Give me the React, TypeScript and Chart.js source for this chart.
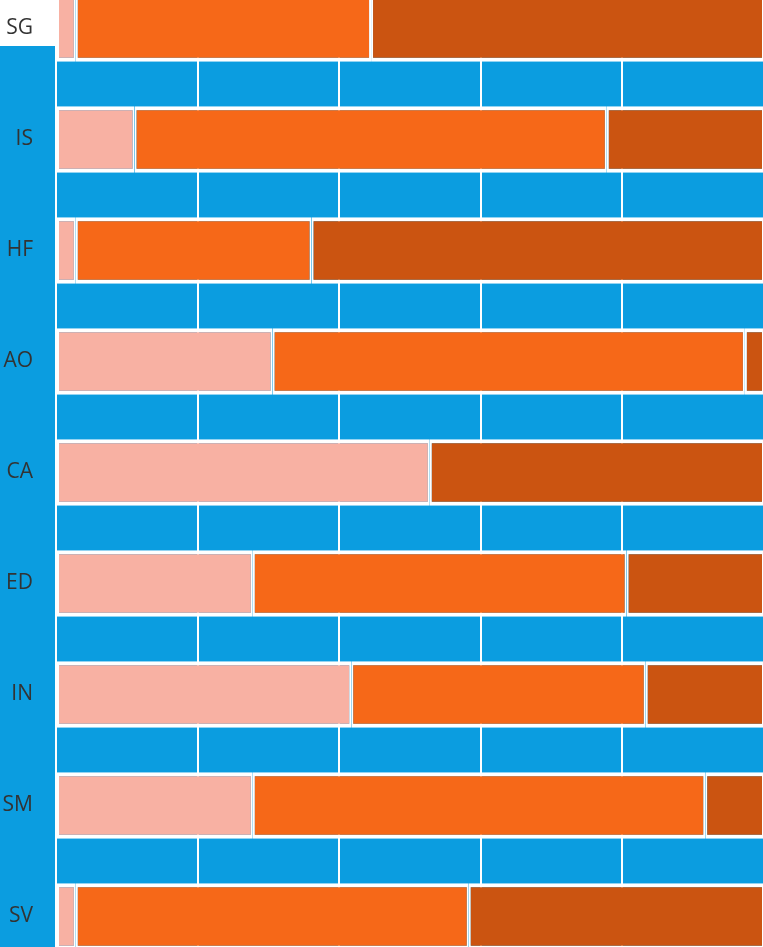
import React, { useEffect, useRef } from "react";
import { Chart, registerables } from "chart.js";

Chart.register(...registerables);

const categories = ["SG", "IS", "HF", "AO", "CA", "ED", "IN", "SM", "SV"];
const lowShare = [2.8, 11.1, 2.8, 30.6, 52.8, 27.8, 41.7, 27.8, 2.8];
const midShare = [41.7, 66.7, 33.3, 66.7, null, 52.8, 41.6, 63.9, 55.5];
const highShare = [55.5, 22.2, 63.9, 2.7, 47.2, 19.4, 16.7, 8.3, 41.7];
const xTicks = [0, 20, 40, 60, 80, 100];

const BLUE = "#0b9de0";
const PINK = "#f8b1a3";
const ORANGE = "#f66818";
const DARK = "#cb5411";

const CANVAS_W = 764;
const CANVAS_H = 999;
const CANVAS_TOP = -27;
const LEFT_BLUE_TOP = 73;
const AXIS_W = 56;

const bgPlugin = {
  id: "bgPlugin",
  beforeDraw(chart: any) {
    const { ctx, chartArea, width, height } = chart;
    ctx.save();
    ctx.fillStyle = "#ffffff";
    ctx.fillRect(0, 0, width, height);
    ctx.fillStyle = BLUE;
    ctx.fillRect(
      chartArea.left,
      chartArea.top,
      chartArea.right - chartArea.left,
      chartArea.bottom - chartArea.top
    );
    ctx.fillRect(0, LEFT_BLUE_TOP, chartArea.left, height - LEFT_BLUE_TOP);
    ctx.restore();
  },
};

export default function App() {
  const ref = useRef<HTMLCanvasElement | null>(null);

  useEffect(() => {
    document.body.style.margin = "0";
    const canvas = ref.current;
    if (!canvas) return;
    const border = { top: 4, bottom: 4, left: 2, right: 2 };
    const common = {
      borderColor: "#ffffff",
      borderWidth: border,
      borderSkipped: false,
      categoryPercentage: 0.8,
      barPercentage: 0.75,
    };
    const chart = new Chart(canvas, {
      type: "bar",
      data: {
        labels: categories,
        datasets: [
          { label: "low", data: lowShare, backgroundColor: PINK, ...common },
          { label: "mid", data: midShare, backgroundColor: ORANGE, ...common },
          { label: "high", data: highShare, backgroundColor: DARK, ...common },
        ] as any,
      },
      options: {
        indexAxis: "y",
        responsive: false,
        animation: false,
        devicePixelRatio: 1,
        layout: { padding: 0 },
        plugins: {
          legend: { display: false },
          tooltip: { enabled: false },
        },
        scales: {
          x: {
            stacked: true,
            min: 0,
            max: 100,
            afterBuildTicks: (scale: any) => {
              scale.ticks = xTicks.map((v) => ({ value: v }));
            },
            ticks: { display: false },
            grid: { color: "#ffffff", lineWidth: 2, drawTicks: false },
            border: { display: false },
            afterFit: (scale: any) => {
              scale.height = 0;
              scale.paddingLeft = 0;
              scale.paddingRight = 0;
            },
          },
          y: {
            stacked: true,
            offset: true,
            ticks: {
              color: "#333333",
              padding: 23,
              font: { family: "'Open Sans', 'Noto Sans', sans-serif", size: 21 },
            },
            grid: { display: false, drawTicks: false },
            border: { display: false },
            afterFit: (scale: any) => {
              scale.width = AXIS_W;
              scale.paddingTop = 0;
              scale.paddingBottom = 0;
            },
          },
        },
      } as any,
      plugins: [bgPlugin],
    });
    return () => chart.destroy();
  }, []);

  return (
    <div
      style={{
        position: "fixed",
        left: 0,
        top: 0,
        width: 763,
        height: 947,
        overflow: "hidden",
        background: "#ffffff",
      }}
    >
      <canvas
        ref={ref}
        width={CANVAS_W}
        height={CANVAS_H}
        style={{ position: "absolute", left: 0, top: CANVAS_TOP, width: CANVAS_W, height: CANVAS_H }}
      />
    </div>
  );
}
